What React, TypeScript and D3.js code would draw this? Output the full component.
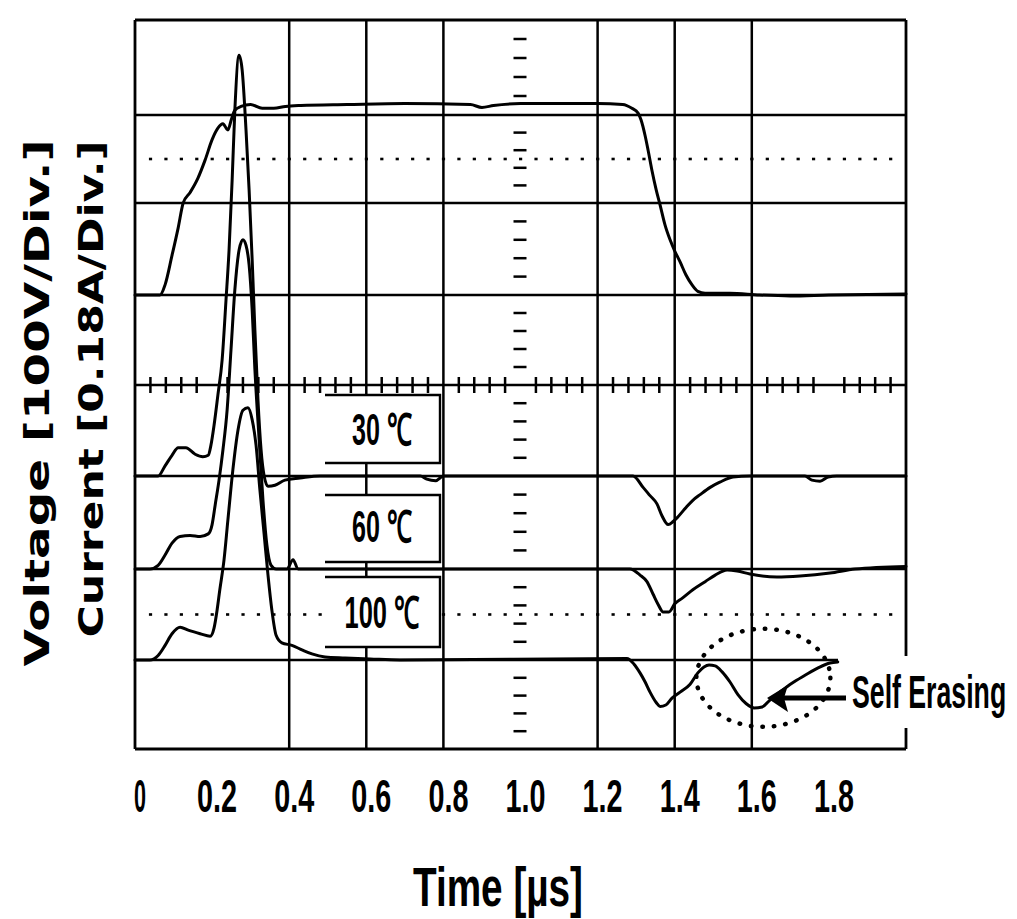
import React from 'react'
import * as d3 from 'd3'

// time axis, 0.2 µs per division
const timeTicks = [0, 0.2, 0.4, 0.6, 0.8, 1.0, 1.2, 1.4, 1.6, 1.8]
const timeLabels = ['0', '0.2', '0.4', '0.6', '0.8', '1.0', '1.2', '1.4', '1.6', '1.8']
// grid lines that are visible on the scope print
const gridTimes = [0.4, 0.6, 0.8, 1.2, 1.4, 1.6]
const gridDivs = [-3, -2, -1, 1, 2, 3]
const dottedDivs = [2.5, -2.5]

const voltsPerDiv = 100
const ampsPerDiv = 0.18
const voltageOffsetDiv = 1

// [time µs, volts]
const voltage: [number, number][] = [
  [0, 0], [0.065, 0], [0.078, 11], [0.096, 43], [0.112, 73], [0.125, 100], [0.143, 112],
  [0.163, 128], [0.182, 149], [0.2, 172], [0.215, 185], [0.228, 190], [0.241, 183],
  [0.25, 195], [0.259, 205], [0.275, 209], [0.3, 211], [0.33, 207], [0.36, 207],
  [0.39, 209], [0.43, 210], [0.55, 211], [0.7, 212], [0.87, 211], [0.9, 208], [0.93, 210],
  [1.0, 212], [1.1, 212], [1.2, 212], [1.265, 211], [1.289, 207], [1.305, 202],
  [1.313, 194], [1.323, 177], [1.331, 160], [1.341, 137], [1.352, 115], [1.362, 98],
  [1.375, 76], [1.388, 60], [1.401, 47], [1.414, 36], [1.429, 22], [1.445, 11],
  [1.46, 4], [1.479, 2], [1.543, 2], [1.62, 0], [1.7, -1], [1.8, 0], [2.0, 1],
]

// [time µs, amps]
const current30: [number, number][] = [
  [0, 0], [0.06, 0], [0.078, 0.02], [0.096, 0.041], [0.112, 0.056], [0.132, 0.056],
  [0.156, 0.043], [0.176, 0.038], [0.19, 0.041], [0.197, 0.061], [0.205, 0.1],
  [0.215, 0.16], [0.226, 0.23], [0.236, 0.349], [0.244, 0.448], [0.252, 0.587],
  [0.259, 0.729], [0.27, 0.833], [0.278, 0.805], [0.288, 0.689], [0.296, 0.567],
  [0.304, 0.428], [0.311, 0.29], [0.319, 0.15], [0.327, 0.052], [0.335, 0],
  [0.345, -0.02], [0.363, -0.018], [0.389, -0.008], [0.428, -0.004], [0.48, 0],
  [0.74, 0], [0.757, -0.006], [0.78, -0.009], [0.8, 0], [1.292, 0], [1.318, -0.022],
  [1.336, -0.038], [1.354, -0.054], [1.367, -0.077], [1.383, -0.094], [1.396, -0.088],
  [1.406, -0.081], [1.427, -0.063], [1.447, -0.047], [1.466, -0.036], [1.492, -0.022],
  [1.517, -0.012], [1.551, -0.002], [1.595, 0], [1.738, 0], [1.756, -0.008],
  [1.777, -0.01], [1.798, -0.002], [1.82, 0], [2.0, 0],
]

const current60: [number, number][] = [
  [0, 0], [0.039, 0], [0.06, 0.007], [0.078, 0.027], [0.096, 0.05], [0.117, 0.063],
  [0.143, 0.065], [0.169, 0.063], [0.19, 0.068], [0.2, 0.086], [0.208, 0.124],
  [0.218, 0.172], [0.228, 0.231], [0.239, 0.311], [0.249, 0.43], [0.259, 0.55],
  [0.27, 0.628], [0.28, 0.648], [0.288, 0.637], [0.296, 0.599], [0.304, 0.509],
  [0.311, 0.391], [0.322, 0.252], [0.332, 0.133], [0.342, 0.047], [0.353, 0.007],
  [0.366, 0], [0.394, 0], [0.41, 0.018], [0.423, 0], [1.284, 0], [1.31, -0.012],
  [1.328, -0.025], [1.344, -0.05], [1.357, -0.07], [1.37, -0.085], [1.385, -0.085],
  [1.401, -0.068], [1.419, -0.058], [1.447, -0.041], [1.479, -0.025], [1.505, -0.012],
  [1.536, -0.002], [1.562, -0.004], [1.595, -0.01], [1.665, -0.016], [1.725, -0.014],
  [1.803, -0.008], [1.868, 0], [2.0, 0.005],
]

const current100: [number, number][] = [
  [0, 0], [0.039, 0], [0.06, 0.009], [0.078, 0.029], [0.096, 0.052], [0.117, 0.065],
  [0.138, 0.059], [0.169, 0.052], [0.195, 0.047], [0.205, 0.063], [0.213, 0.099],
  [0.22, 0.139], [0.231, 0.198], [0.241, 0.275], [0.254, 0.373], [0.267, 0.45],
  [0.28, 0.49], [0.293, 0.495], [0.304, 0.471], [0.314, 0.421], [0.324, 0.333],
  [0.335, 0.247], [0.345, 0.168], [0.355, 0.099], [0.366, 0.049], [0.381, 0.034],
  [0.407, 0.029], [0.433, 0.02], [0.459, 0.012], [0.493, 0.006], [0.545, 0.004],
  [0.61, 0.002], [0.687, 0], [1.276, 0.003], [1.294, -0.008], [1.31, -0.026],
  [1.323, -0.044], [1.336, -0.065], [1.352, -0.086], [1.362, -0.094], [1.377, -0.091],
  [1.393, -0.077], [1.414, -0.065], [1.44, -0.049], [1.46, -0.026], [1.476, -0.014],
  [1.489, -0.01], [1.505, -0.012], [1.523, -0.024], [1.543, -0.044], [1.564, -0.07],
  [1.585, -0.088], [1.606, -0.097], [1.627, -0.095], [1.647, -0.081], [1.673, -0.065],
  [1.704, -0.047], [1.738, -0.031], [1.772, -0.016], [1.803, -0.006], [1.823, -0.004],
]

const currentLabels = ['30 ℃', '60 ℃', '100 ℃']
const currentOffsetsDiv = [-1, -2, -3]

const FONT = "'Liberation Sans', Arial, sans-serif"

export default function App() {
  const W = 1017
  const H = 919

  const x = d3.scaleLinear().domain([0, 2]).range([135, 906])
  // scanned scope print: division lines are not perfectly even
  const y = d3
    .scaleLinear()
    .domain([-4, -3, -2, -1, 0, 1, 2, 3, 4])
    .range([749, 660, 569, 476, 385, 295, 203, 115, 20])

  const traceLine = (offset: number, perDiv: number) =>
    d3
      .line<[number, number]>()
      .x((d) => x(d[0]))
      .y((d) => y(offset + d[1] / perDiv))
      .curve(d3.curveMonotoneX)

  const minorTimes = d3.range(1, 50).filter((i) => i % 5 !== 0).map((i) => i * 0.04)
  const minorDivs = d3.range(-19, 20).filter((i) => i % 5 !== 0).map((i) => i * 0.2)
  const dotTimes = d3.range(1, 50).map((i) => i * 0.04)

  const currents = [current30, current60, current100]

  // label boxes (open on the left side)
  const boxes = [
    { top: 395, bottom: 463, base: 445, len: 60 },
    { top: 495, bottom: 562, base: 542, len: 60 },
    { top: 577, bottom: 647, base: 628, len: 75 },
  ]
  const boxL = 325
  const boxR = 440

  const cx = x(0)
  const top = y(4)
  const bottom = y(-4)
  const right = x(2)

  return (
    <svg
      width={W}
      height={H}
      style={{ position: 'absolute', left: 0, top: 0, background: '#fff' }}
      fontFamily={FONT}
    >
      <rect width={W} height={H} fill="#fff" />

      {/* grid */}
      <g stroke="#000" strokeWidth={2.5} fill="none">
        {gridTimes.map((t) => (
          <line key={'vx' + t} x1={x(t)} x2={x(t)} y1={top} y2={bottom} />
        ))}
        {gridDivs.map((d) => (
          <line key={'hy' + d} x1={cx} x2={right} y1={y(d)} y2={y(d)} />
        ))}
        <line x1={cx} x2={right} y1={y(0)} y2={y(0)} />
      </g>

      {/* dotted half-division lines */}
      <g fill="#000">
        {dottedDivs.map((d) =>
          dotTimes.map((t) => (
            <rect key={'dot' + d + '_' + t} x={x(t) - 1.5} y={y(d) - 1.3} width={3.2} height={2.6} />
          ))
        )}
      </g>

      {/* minor ticks on centre axes */}
      <g stroke="#000" strokeWidth={2.5}>
        {minorTimes.map((t) => (
          <line key={'mt' + t} x1={x(t)} x2={x(t)} y1={y(0) - 8} y2={y(0) + 8} />
        ))}
        {minorDivs.map((d) => (
          <line key={'md' + d} x1={x(1) - 7} x2={x(1) + 6} y1={y(d)} y2={y(d)} />
        ))}
      </g>

      {/* frame */}
      <g stroke="#000" strokeWidth={2.8} fill="none">
        <line x1={cx} x2={right} y1={top} y2={top} />
        <line x1={cx} x2={right} y1={bottom} y2={bottom} />
        <line x1={cx} x2={cx} y1={top} y2={bottom} />
        <line x1={right} x2={right} y1={top} y2={bottom} />
      </g>

      {/* temperature boxes */}
      {boxes.map((b, i) => (
        <g key={'box' + i}>
          <rect x={boxL} y={b.top} width={boxR - boxL} height={b.bottom - b.top} fill="#fff" />
          <path
            d={`M${boxL},${b.top}H${boxR}V${b.bottom}H${boxL}`}
            fill="none"
            stroke="#000"
            strokeWidth={2.4}
          />
          <text
            x={382}
            y={b.base}
            fontSize={44}
            fontWeight="bold"
            textAnchor="middle"
            textLength={b.len}
            lengthAdjust="spacingAndGlyphs"
          >
            {currentLabels[i]}
          </text>
        </g>
      ))}

      {/* white patch behind the Self Erasing note */}
      <rect x={838} y={656} width={W - 838} height={72} fill="#fff" />

      {/* traces */}
      <g fill="none" stroke="#000" strokeWidth={3} strokeLinejoin="round" strokeLinecap="round">
        <path d={traceLine(voltageOffsetDiv, voltsPerDiv)(voltage) || ''} />
        {currents.map((c, i) => (
          <path key={'cur' + i} d={traceLine(currentOffsetsDiv[i], ampsPerDiv)(c) || ''} />
        ))}
      </g>

      {/* self erasing annotation */}
      <ellipse
        cx={x(1.63)}
        cy={y(-3.2)}
        rx={67}
        ry={49}
        fill="none"
        stroke="#000"
        strokeWidth={4.5}
        strokeDasharray="0.5 11"
        strokeLinecap="round"
      />
      <line x1={846} x2={782} y1={698} y2={698} stroke="#000" strokeWidth={5} />
      <polygon points="767,698 788,685 784,698 788,712" fill="#000" />
      <text transform="translate(852,708) scale(0.58,1)" fontSize={46} fontWeight="bold">
        Self Erasing
      </text>

      {/* time tick labels */}
      {timeTicks.map((t, i) => (
        <text
          key={'tl' + t}
          x={x(t) + 5}
          y={812}
          fontSize={47}
          fontWeight="bold"
          textAnchor="middle"
          textLength={timeLabels[i].length === 1 ? 12 : 40}
          lengthAdjust="spacingAndGlyphs"
        >
          {timeLabels[i]}
        </text>
      ))}

      {/* axis titles */}
      <text
        x={498}
        y={906}
        fontSize={56}
        fontWeight="bold"
        textAnchor="middle"
        textLength={170}
        lengthAdjust="spacingAndGlyphs"
      >
        Time [µs]
      </text>
      <text
        transform="translate(49,403) rotate(-90)"
        fontFamily="'DejaVu Sans', sans-serif"
        fontSize={34}
        fontWeight="bold"
        textAnchor="middle"
        textLength={527}
        lengthAdjust="spacingAndGlyphs"
      >
        Voltage [100V/Div.]
      </text>
      <text
        transform="translate(103,389) rotate(-90)"
        fontFamily="'DejaVu Sans', sans-serif"
        fontSize={33}
        fontWeight="bold"
        textAnchor="middle"
        textLength={497}
        lengthAdjust="spacingAndGlyphs"
      >
        Current [0.18A/Div.]
      </text>
    </svg>
  )
}
